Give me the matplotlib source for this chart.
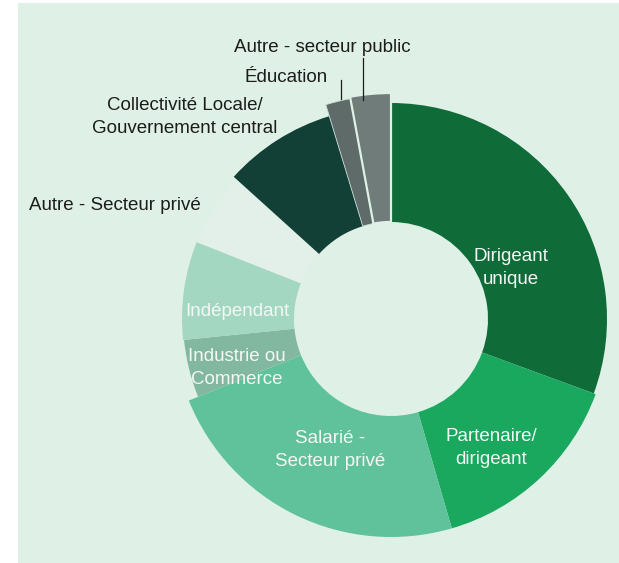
import matplotlib
matplotlib.use("Agg")
import matplotlib.pyplot as plt
from matplotlib.patches import Rectangle

plt.rcParams['font.family'] = ['Liberation Sans', 'DejaVu Sans']

categories = ["Dirigeant unique", "Partenaire/ dirigeant", "Salarié - Secteur privé",
              "Industrie ou Commerce", "Indépendant", "Autre - Secteur privé",
              "Collectivité Locale/ Gouvernement central", "Éducation",
              "Autre - secteur public"]
values = [30.6, 14.9, 23.4, 4.5, 7.6, 5.7, 8.6, 1.8, 2.9]
label_lines = ["Dirigeant\nunique", "Partenaire/\ndirigeant", "Salarié -\nSecteur privé",
               "Industrie ou\nCommerce", "Indépendant", "Autre - Secteur privé",
               "Collectivité Locale/\nGouvernement central", "Éducation",
               "Autre - secteur public"]

BG = "#dff1e6"
colors = ["#0f6b38", "#19a85e", "#5fc29b", "#82b8a0", "#a3d7c2", "#e3efe9",
          "#123f36", "#5e6b69", "#6f7c79"]
outer_r = [216, 218, 218, 208, 209, 209, 212, 224, 226]
inner_r = 97

W, H = 619, 563
fig = plt.figure(figsize=(W / 100, H / 100), dpi=100)
ax = fig.add_axes([0, 0, 1, 1])

# panel background
ax.add_patch(Rectangle((18, 0), W - 18, H - 3, facecolor=BG, edgecolor='none', zorder=0))

cx, cy = 391, H - 319
wedges, _ = ax.pie(values, startangle=90, counterclock=False, center=(cx, cy),
                   radius=217, colors=colors, frame=True,
                   wedgeprops=dict(width=217 - inner_r, linewidth=0))
ax.set_xlim(0, W)
ax.set_ylim(0, H)
ax.set_aspect('equal')
ax.axis('off')
for w, r in zip(wedges, outer_r):
    w.set_radius(r)
    w.set_width(r - inner_r)
    w.set_zorder(2)
wedges[7].set_edgecolor("#c9dcd3")
wedges[7].set_linewidth(0.6)
wedges[8].set_edgecolor(BG)
wedges[8].set_linewidth(1.6)

fs = 13.5
white = "#f4f7f5"
dark = "#1c1c1c"

def px(x, y):
    return x, H - y

inside = {0: (511, 268), 1: (491, 448), 2: (330, 450), 3: (237, 368), 4: (237, 312)}
for i, (x, y) in inside.items():
    ax.text(*px(x, y), label_lines[i], ha='center', va='center', fontsize=fs,
            color=white, linespacing=1.4, zorder=5)

outside = {5: (115, 205), 6: (185, 117), 7: (286.5, 77), 8: (322, 47)}
for i, (x, y) in outside.items():
    ax.text(*px(x, y), label_lines[i], ha='center', va='center', fontsize=fs,
            color=dark, linespacing=1.4, zorder=5)

# leader lines
ax.plot([341, 341], [H - 80, H - 99], color=dark, lw=0.9, zorder=4)
ax.plot([362.7, 362.7], [H - 58, H - 100], color=dark, lw=0.9, zorder=4)

fig.savefig("out.png", dpi=100, facecolor='white')
